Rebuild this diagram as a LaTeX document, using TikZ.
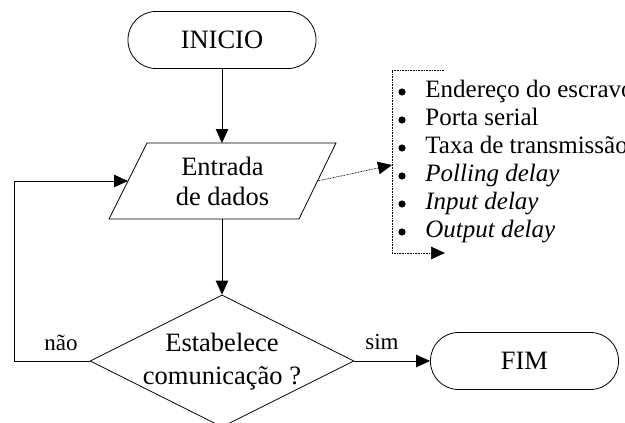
\documentclass[tikz,border=0pt]{standalone}
\usepackage{fontspec}
\setmainfont{Liberation Serif}
\usetikzlibrary{arrows.meta,shapes.geometric}
\begin{document}
\begin{tikzpicture}[x=1pt,y=-1pt,
  line width=0.8pt,
  tip/.style={-{Triangle[length=14pt,width=12.5pt]}},
  term/.style={draw,rectangle,rounded corners=28pt,minimum width=188pt,minimum height=57pt,inner sep=0pt},
  dec/.style={draw,diamond,minimum width=264pt,minimum height=132pt,inner sep=0pt},
  big/.style={font=\fontsize{26.5pt}{31pt}\selectfont,align=center,inner sep=0pt},
  item/.style={anchor=base west,font=\fontsize{25pt}{28pt}\selectfont,inner sep=0pt},
  bul/.style={circle,fill=black,inner sep=0pt,minimum size=7.2pt},
  lab/.style={font=\fontsize{23pt}{27pt}\selectfont,inner sep=0pt},
  dotline/.style={line width=0.7pt,dash pattern=on 0.8pt off 0.8pt}]
\useasboundingbox (0,0) rectangle (625,423);
% nodes
\node[term] (ini) at (222,40) {};
\node[big] (initxt) at (ini) {INICIO};
\coordinate (ptl) at (147,143);
\coordinate (ptr) at (336,143);
\coordinate (pbr) at (299,219);
\coordinate (pbl) at (109,219);
\coordinate (pt) at (222,143);
\coordinate (pb) at (222,219);
\coordinate (pl) at (128,181);
\coordinate (pr) at (317.5,181);
\draw (ptl) -- (ptr) -- (pbr) -- (pbl) -- cycle;
\node[big,font=\fontsize{26.5pt}{30pt}\selectfont] (ent) at (222.5,181) {Entrada\\de dados};
\node[dec] (d) at (222,361) {};
\node[big,font=\fontsize{26.5pt}{33pt}\selectfont] (dtxt) at (222,362) {Estabelece\\comunicação ?};
\node[term] (fim) at (524.5,361) {};
\node[big] (fimtxt) at (fim) {FIM};
% connectors
\draw[tip] (ini.south) -- (pt);
\draw[tip] (pb) -- (d.north);
\coordinate (lb) at (14,361);
\coordinate (lt) at (14,181);
\draw[tip] (d.west) -- (lb) -- (lt) -- (pl);
\draw[tip] (d.east) -- (fim.west);
\node[lab] (nao) at (61,343) {não};
\node[lab] (sim) at (382,342) {sim};
% list
\coordinate (lin) at (392,165);
\coordinate (bt) at (444,70);
\coordinate (btl) at (392,70);
\coordinate (bbl) at (392,253);
\coordinate (bb) at (445,253);
\draw[dotline,tip] (pr) -- (lin);
\draw[dotline,tip] (bt) -- (btl) -- (bbl) -- (bb);
\foreach \t [count=\i from 0] in {Endereço do escravo,Porta serial,Taxa de transmissão,\textit{Polling delay},\textit{Input delay},\textit{Output delay}}{
  \node[bul] (b\i) at (402,92+28*\i) {};
  \node[item] (t\i) at (425,97.5+28*\i) {\t};
}
\end{tikzpicture}
\end{document}
